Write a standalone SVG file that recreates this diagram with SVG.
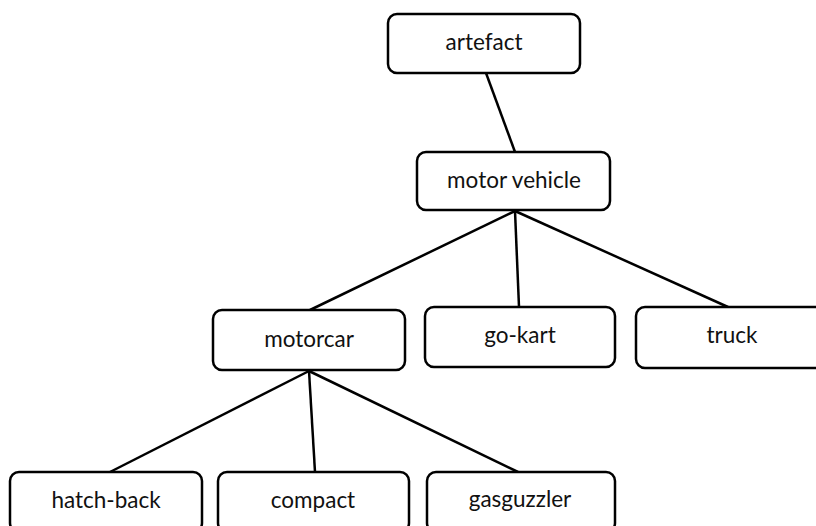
<svg xmlns="http://www.w3.org/2000/svg" width="816" height="526" viewBox="0 0 816 526">
<style>
.box{fill:#fff;stroke:#000;stroke-width:2.5}
.lbl{font-family:Lato,"Open Sans","Liberation Sans",sans-serif;font-size:22.5px;fill:#111;text-anchor:middle}
.edge{stroke:#000;stroke-width:2.5;fill:none}
</style>
<rect width="816" height="526" fill="#fff"/>
<g id="connectors">
<line class="edge" x1="486" y1="73" x2="515" y2="152"/>
<line class="edge" x1="515" y1="211" x2="310" y2="310"/>
<line class="edge" x1="515" y1="211" x2="519" y2="307"/>
<line class="edge" x1="515" y1="211" x2="728" y2="307"/>
<line class="edge" x1="309" y1="371" x2="110" y2="472"/>
<line class="edge" x1="309" y1="371" x2="315" y2="472"/>
<line class="edge" x1="309" y1="371" x2="518" y2="472"/>
</g>
<g id="artefact"><rect class="box" x="388" y="14" width="192" height="59" rx="9"/><text class="lbl" x="484" y="50">artefact</text></g>
<g id="motor-vehicle"><rect class="box" x="417" y="152" width="193" height="58" rx="9"/><text class="lbl" x="514" y="188">motor vehicle</text></g>
<g id="motorcar"><rect class="box" x="213" y="310" width="192" height="60" rx="9"/><text class="lbl" x="309" y="347">motorcar</text></g>
<g id="go-kart"><rect class="box" x="425" y="307" width="190" height="60" rx="9"/><text class="lbl" x="520" y="343">go-kart</text></g>
<g id="truck"><rect class="box" x="636" y="307" width="192" height="61" rx="9"/><text class="lbl" x="732" y="343">truck</text></g>
<g id="hatch-back"><rect class="box" x="10" y="472" width="192" height="60" rx="9"/><text class="lbl" x="106" y="508">hatch-back</text></g>
<g id="compact"><rect class="box" x="218" y="472" width="191" height="60" rx="9"/><text class="lbl" x="313" y="508">compact</text></g>
<g id="gasguzzler"><rect class="box" x="427" y="472" width="188" height="60" rx="9"/><text class="lbl" x="520" y="507">gasguzzler</text></g>
</svg>
